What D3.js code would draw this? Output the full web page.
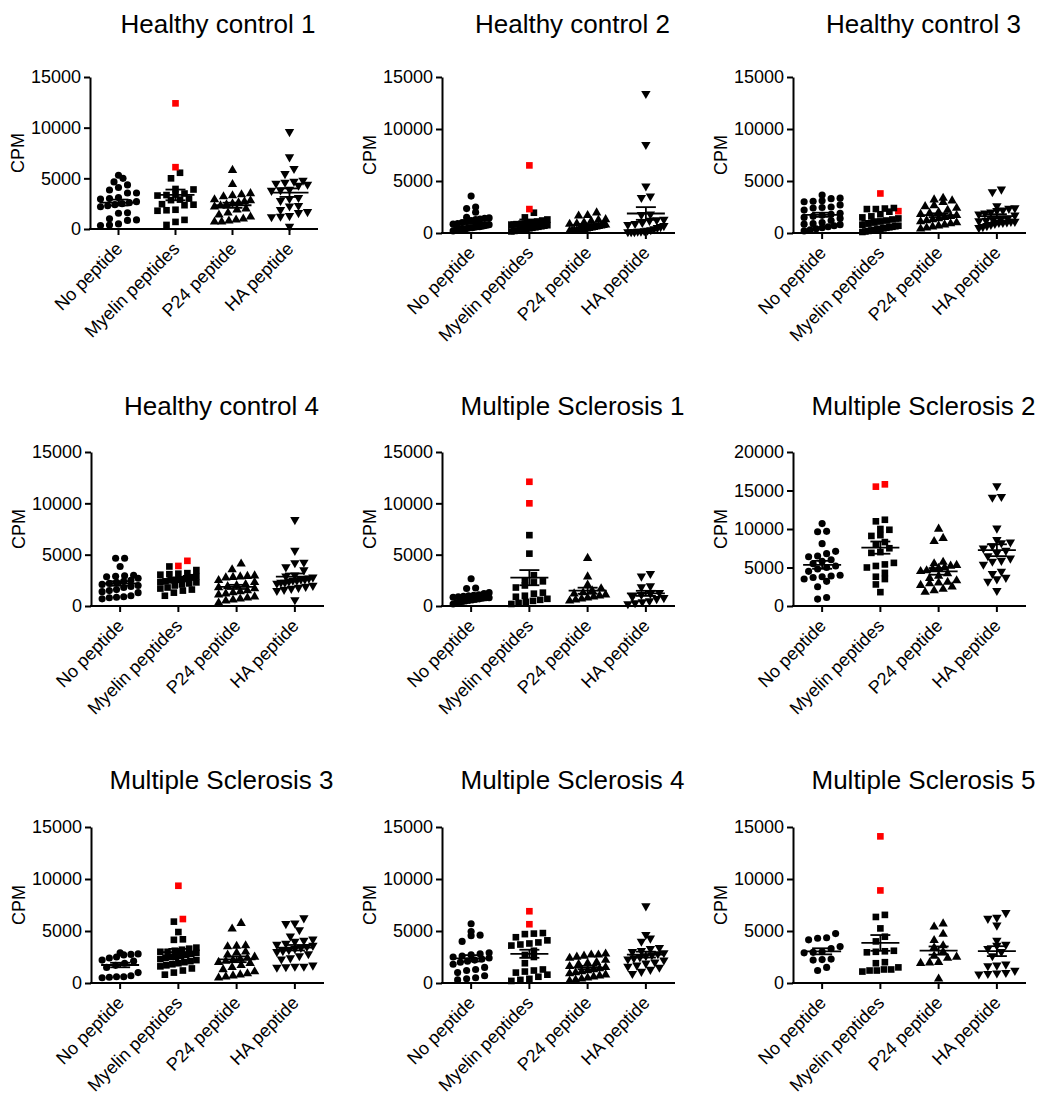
<!DOCTYPE html>
<html>
<head>
<meta charset="utf-8">
<script src="https://cdnjs.cloudflare.com/ajax/libs/d3/7.8.5/d3.min.js"></script>
<style>
  body { margin: 0; background: #fff; }
  svg { display: block; font-family: "Liberation Sans", Arial, Helvetica, sans-serif; }
</style>
</head>
<body>
<div id="chart"></div>
<script>
// panel titles, groups and y ranges
const titles = ["Healthy control 1", "Healthy control 2", "Healthy control 3",
  "Healthy control 4", "Multiple Sclerosis 1", "Multiple Sclerosis 2",
  "Multiple Sclerosis 3", "Multiple Sclerosis 4", "Multiple Sclerosis 5"];
const categories = ["No peptide", "Myelin peptides", "P24 peptide", "HA peptide"];
const yMaxes = [15000, 15000, 15000, 15000, 15000, 20000, 15000, 15000, 15000];
const yTicks15 = [0, 5000, 10000, 15000];
const yTicks20 = [0, 5000, 10000, 15000, 20000];

// CPM values per group: [no peptide, myelin (black), P24, HA]; red = highlighted myelin wells
const hc1 = [
  [5300,5000,4650,4350,4100,3850,3550,3550,3100,3000,2950,2700,2600,2500,2400,2300,2200,1600,1550,1000,900,850,500,400,350],
  [5550,5000,3950,3900,3500,3400,3350,3300,3000,2900,2850,2450,2400,2350,1900,1850,1800,900,700,400],
  [5800,4400,3500,3400,3300,3200,2900,2800,2700,2600,2500,2400,2300,2200,2000,1900,1600,1400,1200,1000,900,800,700,700],
  [9600,7100,5950,5450,4800,4700,4600,4500,4400,4300,3900,3850,3800,3100,3000,2800,2300,2250,1900,1700,1600,1300,1250,1200,250]
];
const hc1Red = [12400, 6100];

const hc2 = [
  [3550,2500,2350,2000,1500,1450,1400,1350,1300,1200,1100,1000,900,850,800,750,700,650,600,600,550,500,500,450,400,400,350,300,250,200],
  [1950,1500,1300,1200,1100,1000,950,900,850,800,750,700,650,600,550,500,450,400,350,300,250,200,150],
  [1950,1700,1650,1300,1250,1150,1000,900,850,800,750,700,650,600,550,500,450,400,350,300,300,250,250,200,200],
  [13400,8500,4500,3550,3400,1800,1750,1300,1250,1200,1000,900,800,700,600,500,400,300,250,200,150,150,100,100,100]
];
const hc2Red = [6500, 2300];

const hc3 = [
  [3650,3350,3300,3100,3050,3000,2700,2500,2450,2400,2200,1900,1800,1700,1600,1500,1400,1200,1000,900,850,800,700,600,500,400,300,200],
  [2400,2350,2300,2300,2050,1800,1600,1500,1400,1300,1200,1100,1000,900,800,700,650,600,550,500,450,400,350,300,250,200,150,100],
  [3350,3200,3100,2950,2650,2550,2400,2200,2000,1900,1800,1700,1600,1500,1400,1300,1200,1100,1000,900,800,700,600,500,400],
  [4200,3950,2600,2400,2350,2200,2150,2000,1900,1800,1700,1400,1300,1250,1200,1150,1100,1100,1050,1000,1000,900,800,700,600,500]
];
const hc3Red = [3800, 2100];

const hc4 = [
  [4650,4650,3850,3000,2950,2900,2850,2700,2500,2400,2300,2200,2100,2000,1900,1800,1600,1500,1400,1300,1000,900,850,800,700],
  [3850,3500,3200,3150,3100,3050,2900,2800,2700,2600,2550,2500,2400,2350,2300,2200,2100,2000,1800,1700,1600,1500,1300,1000],
  [4100,3550,2950,2900,2850,2800,2750,2500,2300,2100,2000,1900,1800,1700,1500,1400,1300,1200,1100,900,800,700,600,500,300],
  [8400,5400,4250,4200,3800,3500,3000,2900,2800,2700,2600,2600,2500,2500,2400,2300,2300,2200,2000,1900,1800,1700,1600,1500,600]
];
const hc4Red = [4400, 3900];

const ms1 = [
  [2650,1750,1700,1300,1200,1100,1050,1000,950,900,850,800,800,750,700,650,600,550,500,450,400,300,200],
  [6900,5100,3000,2500,2400,2300,2000,1800,1300,1200,1000,900,700,600,500,400,300,200],
  [4650,2850,2050,1700,1500,1300,1200,1100,1000,900,800,700,600,500],
  [3150,2900,1950,1850,1300,1200,1100,900,800,700,500,400,300,200]
];
const ms1Red = [12100, 10000];

const ms2 = [
  [10700,9700,9650,8100,7100,6800,6500,6400,6000,5800,5500,5200,5000,4800,4500,4000,3900,3800,3700,3500,3200,2500,1100,900],
  [11200,11000,10000,9900,9200,9100,8300,8000,7500,7000,6900,5600,5400,5200,5000,4300,3800,3500,2800,1800],
  [10000,8800,8400,5700,5500,5300,5200,5000,4900,4800,4600,4500,4200,3900,3600,3300,3100,3000,2900,2700,2500,2200,2000,1800],
  [15600,14200,14100,10100,8600,8300,8200,7800,7500,7200,6900,6500,6200,5900,5800,5400,4500,4200,3700,3500,3200,2000]
];
const ms2Red = [15800, 15500];

const ms3 = [
  [2900,2800,2750,2700,2500,2400,2200,2100,1900,1700,1500,1000,700,600,600,550,500],
  [5900,4900,4200,4150,3400,3300,3200,3100,3000,3000,2900,2800,2700,2600,2500,2500,2400,2300,2200,2100,2000,1900,1800,1700,1600,1400,1200,1000,800],
  [5750,5200,3600,3550,3500,3000,2900,2700,2500,2400,2300,2200,2100,2000,1900,1700,1500,1300,1100,900,800,700,600,500],
  [6250,5750,5700,5100,4500,4200,4100,4000,3800,3700,3600,3500,3400,3300,3200,3100,3000,2800,2600,2400,2300,1700,1600,1600,1550,1500]
];
const ms3Red = [9350, 6150];

const ms4 = [
  [5700,4950,4600,4550,4000,2900,2800,2700,2600,2500,2400,2300,2200,2100,2000,1800,1500,1300,1200,1000,700,500,400,300],
  [4800,4750,4700,4400,4100,3900,3800,3700,3600,3100,2700,2500,1900,1300,1200,1100,1000,800,600,400,300,200],
  [2800,2700,2700,2600,2500,2400,2200,2000,1900,1800,1600,1500,1400,1300,1200,1100,1000,900,800,700,600,500,400,300,200],
  [7400,4650,4300,4000,3400,3300,3100,3000,2900,2800,2700,2600,2500,2400,2300,2200,2000,1900,1700,1600,1500,1300,1100,900]
];
const ms4Red = [6900, 5650];

const ms5 = [
  [4750,4350,4300,4150,3500,3300,3000,2950,2900,2300,2250,2200,1500,1200],
  [6550,6350,5250,4450,4000,3100,3050,3000,2950,2000,1900,1500,1300,1300,1200,1200,1100],
  [5700,5400,4700,4100,3600,3400,3000,2600,2500,2400,2000,1950,1900,400],
  [6750,6300,6200,5550,4100,3700,3600,3300,3000,2600,1800,1700,1650,1200,1000,950,900,850]
];
const ms5Red = [14100, 8900];

const panels = [hc1, hc2, hc3, hc4, ms1, ms2, ms3, ms4, ms5];
const reds = [hc1Red, hc2Red, hc3Red, hc4Red, ms1Red, ms2Red, ms3Red, ms4Red, ms5Red];

// layout
const W = 1043, H = 1099;
const colX0 = [91, 442, 793];
const plotW = 233;
const rowTop = [77, 452, 827];
const rowBottom = [233, 606, 983];
const titleY = [33, 415, 789];
const fontAxis = 18, fontTitle = 26;

const symbols = [d3.symbolCircle, d3.symbolSquare, d3.symbolTriangle, d3.symbolTriangle];
const symSize = [40, 44, 38, 38];

const svg = d3.select("#chart").append("svg")
  .attr("width", W).attr("height", H);
svg.append("rect").attr("width", W).attr("height", H).attr("fill", "#fff");

// Prism-like scatter: points in the same y band are spread out side by side
function swarm(points, y, cx) {
  const pts = points.map(p => ({...p, py: y(p.v)})).sort((a, b) => b.py - a.py);
  const bins = [];
  let cur = null;
  pts.forEach(p => {
    if (!cur || cur.start - p.py > 6.5) {
      cur = {start: p.py, items: []};
      bins.push(cur);
    }
    cur.items.push(p);
  });
  bins.forEach(b => {
    const n = b.items.length;
    const s = n > 1 ? Math.min(9, 36 / (n - 1)) : 0;
    b.items.forEach((p, i) => { p.px = cx + (i - (n - 1) / 2) * s; });
  });
  return pts;
}

panels.forEach((groups, k) => {
  const row = Math.floor(k / 3), col = k % 3;
  let x0 = colX0[col], x1 = x0 + plotW;
  let top = rowTop[row], bottom = rowBottom[row];
  if (k === 0) { x0 = 90; x1 = 318; bottom = 229; }

  const g = svg.append("g");
  const x = d3.scaleBand().domain(categories).range([x0, x1]);
  const y = d3.scaleLinear().domain([0, yMaxes[k]]).range([bottom, top]);

  // title
  g.append("text")
    .attr("x", (x0 + x1) / 2 + 14).attr("y", titleY[row])
    .attr("text-anchor", "middle")
    .attr("font-size", fontTitle)
    .text(titles[k]);

  // y axis
  const ya = g.append("g")
    .attr("transform", `translate(${x0},0)`)
    .call(d3.axisLeft(y).tickValues(yMaxes[k] > 15000 ? yTicks20 : yTicks15)
      .tickFormat(d3.format("d")).tickSize(6).tickSizeOuter(0).tickPadding(3));
  ya.selectAll("text").attr("font-size", fontAxis).attr("fill", "#000")
    .attr("font-family", "Liberation Sans, Arial, sans-serif");

  g.append("text")
    .attr("transform", `translate(${x0 - 72},${(top + bottom) / 2}) rotate(-90)`)
    .attr("text-anchor", "middle")
    .attr("dy", "0.35em")
    .attr("font-size", fontAxis)
    .text("CPM");

  // x axis
  const xa = g.append("g")
    .attr("transform", `translate(0,${bottom})`)
    .call(d3.axisBottom(x).tickSize(6).tickSizeOuter(0).tickFormat(""));
  xa.select(".domain").attr("d", `M${x0 - 1},0H${x1}`);

  [ya, xa].forEach(a => {
    a.select(".domain").attr("stroke", "#000").attr("stroke-width", 2);
    a.selectAll(".tick line").attr("stroke", "#000").attr("stroke-width", 2);
  });

  g.selectAll(".xlab").data(categories).join("text")
    .attr("class", "xlab")
    .attr("transform", d => `translate(${x(d) + x.bandwidth() / 2 + 5},${bottom + 21}) rotate(-45)`)
    .attr("text-anchor", "end")
    .attr("font-size", fontAxis)
    .text(d => d);

  // points, mean and SEM
  groups.forEach((vals, gi) => {
    const cx = x(categories[gi]) + x.bandwidth() / 2;
    let pts = vals.map(v => ({v, red: false}));
    if (gi === 1) pts = pts.concat(reds[k].map(v => ({v, red: true})));
    const placed = swarm(pts, y, cx);
    const sym = d3.symbol().type(symbols[gi]).size(symSize[gi]);
    g.append("g").selectAll("path").data(placed).join("path")
      .attr("d", sym)
      .attr("transform", d => `translate(${d.px},${d.py})${gi === 3 ? " rotate(180)" : ""}`)
      .attr("fill", d => d.red ? "#ff0000" : "#000");

    const all = pts.map(p => p.v);
    const m = d3.mean(all);
    const sem = d3.deviation(all) / Math.sqrt(all.length);
    const eg = g.append("g").attr("stroke", "#000").attr("stroke-width", 1.8).attr("fill", "none");
    eg.append("line").attr("x1", cx - 19).attr("x2", cx + 19).attr("y1", y(m)).attr("y2", y(m));
    eg.append("line").attr("x1", cx - 10).attr("x2", cx + 10).attr("y1", y(m + sem)).attr("y2", y(m + sem));
    eg.append("line").attr("x1", cx - 10).attr("x2", cx + 10).attr("y1", y(m - sem)).attr("y2", y(m - sem));
    eg.append("line").attr("x1", cx).attr("x2", cx).attr("y1", y(m + sem)).attr("y2", y(m - sem));
  });
});
</script>
</body>
</html>
